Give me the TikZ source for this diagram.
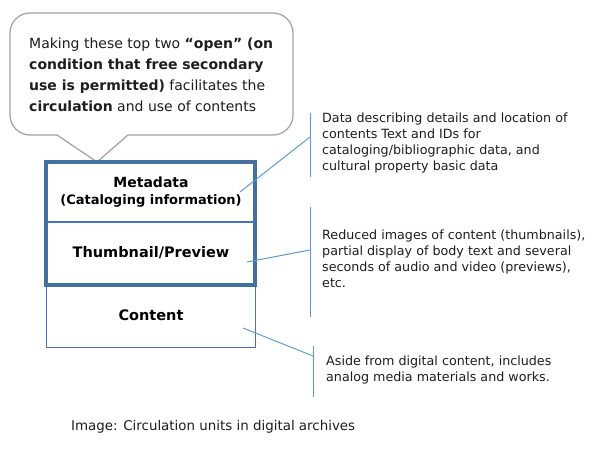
\documentclass[tikz,border=0pt]{standalone}
\usepackage{fontspec}
\setmainfont{DejaVu Sans}
\definecolor{thickblue}{RGB}{65,113,156}
\definecolor{thinblue}{RGB}{68,114,196}
\definecolor{linkblue}{RGB}{91,155,213}
\definecolor{calloutgray}{RGB}{160,160,160}
\definecolor{txt}{RGB}{30,30,30}
\begin{document}
\begin{tikzpicture}[x=1pt,y=-1pt,
  bodytext/.style={text=txt,inner sep=0pt,align=left,font=\fontsize{12.7}{16}\selectfont},
  boxlabel/.style={text=black,inner sep=0pt,align=center,font=\bfseries\fontsize{14.5}{17}\selectfont},
  link/.style={draw=linkblue,line width=1pt},
  bar/.style={draw=linkblue,line width=1pt}]
\useasboundingbox[fill=white] (0,0) rectangle (600,453);
% callout
\draw[calloutgray,line width=1.2pt,fill=white,rounded corners=20pt] (10,13) rectangle (293,135);
\fill[white] (56,133.5) -- (129,133.5) -- (97,162) -- cycle;
\draw[calloutgray,line width=1.2pt] (57,135) -- (97,162) -- (128,135);
\node[anchor=north west,text=txt,inner sep=0pt,align=left,font=\fontsize{14}{21}\selectfont] (callout) at (29,38)
 {Making these top two \textbf{“open” (on}\\ \textbf{condition that free secondary}\\ \textbf{use is permitted)} facilitates the\\ \textbf{circulation} and use of contents};
% boxes
\draw[thinblue,line width=1pt] (46,285) rectangle (255,347);
\draw[thinblue,line width=1.2pt] (46,222) -- (255,222);
\draw[thickblue,line width=3.5pt] (46,162) rectangle (255,285);
\node[boxlabel,font=\bfseries\fontsize{13}{17}\selectfont] (meta) at (151,192) {{\fontsize{14}{17}\selectfont Metadata}\\(Cataloging information)};
\node[boxlabel] (thumb) at (151,253) {Thumbnail/Preview};
\node[boxlabel] (content) at (151,315) {Content};
% bars
\coordinate (b1t) at (310,113); \coordinate (b1b) at (310,177); \coordinate (b1m) at (310,137);
\coordinate (b2t) at (310,207); \coordinate (b2b) at (310,317); \coordinate (b2m) at (310,250);
\coordinate (b3t) at (313,346); \coordinate (b3b) at (313,397); \coordinate (b3m) at (313,356);
\draw[bar] (b1t) -- (b1b);
\draw[bar] (b2t) -- (b2b);
\draw[bar] (b3t) -- (b3b);
\coordinate (m1) at (240,192); \coordinate (m2) at (247,262); \coordinate (m3) at (243,328);
\draw[link] (m1) -- (b1m);
\draw[link] (m2) -- (b2m);
\draw[link] (m3) -- (b3m);
% descriptions
\node[bodytext,anchor=north west] (d1) at (322,113) {Data describing details and location of\\contents Text and IDs for\\cataloging/bibliographic data, and\\cultural property basic data};
\node[bodytext,anchor=north west] (d2) at (322,230) {Reduced images of content (thumbnails),\\partial display of body text and several\\seconds of audio and video (previews),\\etc.};
\node[bodytext,anchor=north west] (d3) at (326,356) {Aside from digital content, includes\\analog media materials and works.};
% caption
\node[bodytext,anchor=north west,font=\fontsize{13.4}{16}\selectfont] (cap) at (71,420) {Image: Circulation units in digital archives};
\end{tikzpicture}
\end{document}
